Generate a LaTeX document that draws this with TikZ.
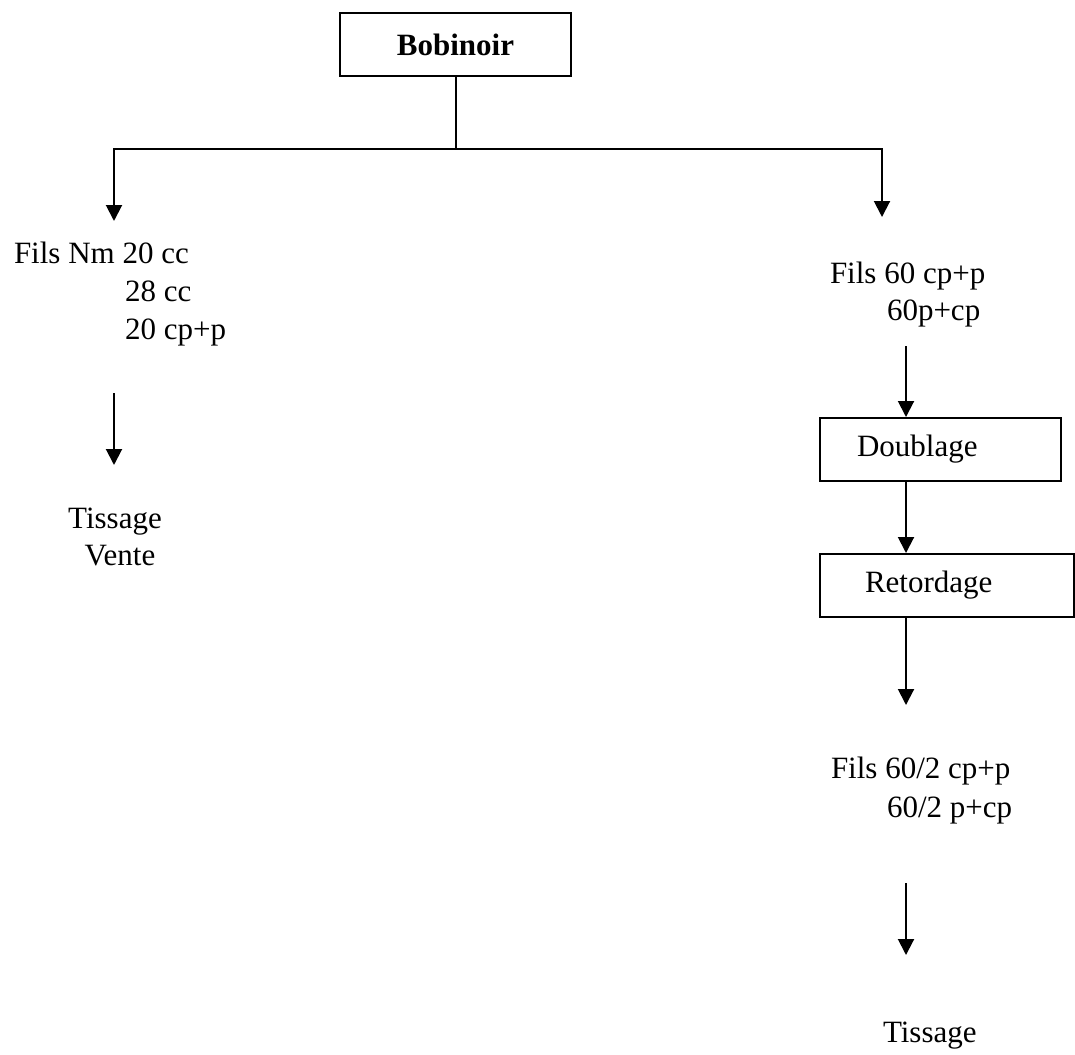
\documentclass[tikz,border=0pt]{standalone}
\usepackage{fontspec}
\setmainfont{Liberation Serif}
\usetikzlibrary{arrows.meta}
\begin{document}
\begin{tikzpicture}[x=1pt,y=-1pt,
  line width=2pt,
  every node/.style={font=\fontsize{31}{38}\selectfont, inner sep=0pt},
  txt/.style={anchor=base west},
  boxnode/.style={draw, line width=2pt, minimum height=63pt, align=left, anchor=north west},
  arr/.style={-{Triangle[width=16pt,length=16pt]}}]
\useasboundingbox (0,0) rectangle (1075,1054);

% top box
\node[draw, line width=2pt, minimum width=231pt, minimum height=63pt, anchor=north west,
      font=\fontsize{31}{38}\selectfont\bfseries] (bob) at (339,12) {Bobinoir};

% branching
\coordinate (split) at (bob.south |- 0,149);
\coordinate (la) at (114,221);
\coordinate (ra) at (882,217);
\draw (bob.south) -- (split);
\draw[arr] (split) -| (la);
\draw[arr] (split) -| (ra);

% left branch
\node[txt] (l1) at (13,263) {Fils Nm 20 cc};
\node[txt] (l2) at (124,301) {28 cc};
\node[txt] (l3) at (124,339) {20 cp+p};
\coordinate (lb1) at (114,393);
\coordinate (lb2) at (114,465);
\draw[arr] (lb1) -- (lb2);
\node[anchor=base] (t1) at (115,528) {Tissage};
\node[anchor=base] (v1) at (120,565) {Vente};

% right branch
\node[txt] (r1) at (829,283) {Fils 60 cp+p};
\node[txt] (r2) at (886,320) {60p+cp};
\node[boxnode, inner xsep=37pt, text width=167pt] (doub) at (819,417) {Doublage};
\node[boxnode, inner xsep=45pt, text width=164pt] (ret) at (819,553) {Retordage};
\coordinate (rb1) at (906,346);
\draw[arr] (rb1) -- (rb1 |- doub.north);
\draw[arr] (rb1 |- doub.south) -- (rb1 |- ret.north);
\coordinate (rb2) at (906,705);
\draw[arr] (rb1 |- ret.south) -- (rb2);
\node[txt] (r3) at (830,778) {Fils 60/2 cp+p};
\node[txt] (r4) at (886,817) {60/2 p+cp};
\coordinate (rb3) at (906,883);
\coordinate (rb4) at (906,955);
\draw[arr] (rb3) -- (rb4);
\node[txt] (t2) at (882,1042) {Tissage};
\end{tikzpicture}
\end{document}
